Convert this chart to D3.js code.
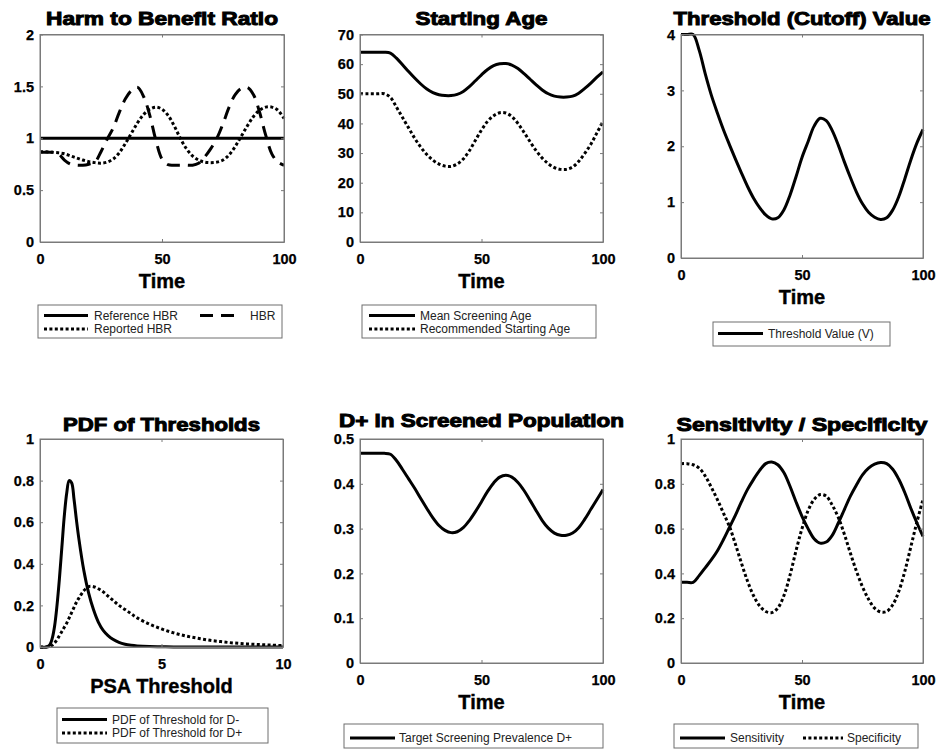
<!DOCTYPE html>
<html>
<head>
<meta charset="utf-8">
<script src="https://cdn.jsdelivr.net/npm/d3@7"></script>
<style>
  body { margin: 0; background: #fff; }
  svg { display: block; }
</style>
</head>
<body>
<svg id="chart" width="947" height="750"></svg>
<script>
// ---- data ----
const time = [0, 2.5, 5, 7.5, 10, 12.5, 15, 17.5, 20, 22.5, 25, 27.5, 30, 32.5, 35, 37.5, 40,
  42.5, 45, 47.5, 50, 52.5, 55, 57.5, 60, 62.5, 65, 67.5, 70, 72.5, 75, 77.5, 80, 82.5, 85,
  87.5, 90, 92.5, 95, 97.5, 100];

const referenceHBR = [1, 1, 1, 1, 1, 1, 1, 1, 1, 1, 1, 1, 1, 1, 1, 1, 1, 1, 1, 1, 1,
  1, 1, 1, 1, 1, 1, 1, 1, 1, 1, 1, 1, 1, 1, 1, 1, 1, 1, 1, 1];
const hbr = [0.865, 0.865, 0.865, 0.85, 0.79, 0.75, 0.74, 0.74, 0.75, 0.77, 0.87, 0.99, 1.10,
  1.25, 1.38, 1.46, 1.49, 1.40, 1.22, 0.98, 0.80, 0.745, 0.74, 0.74, 0.74, 0.74, 0.76, 0.82,
  0.90, 1.00, 1.14, 1.30, 1.42, 1.48, 1.49, 1.42, 1.25, 1.03, 0.85, 0.77, 0.74];
const reportedHBR = [0.87, 0.87, 0.865, 0.86, 0.85, 0.83, 0.81, 0.79, 0.775, 0.765, 0.76, 0.77,
  0.80, 0.86, 0.95, 1.05, 1.15, 1.23, 1.28, 1.30, 1.28, 1.22, 1.12, 1.00, 0.90, 0.83, 0.79,
  0.77, 0.765, 0.77, 0.79, 0.84, 0.92, 1.02, 1.12, 1.21, 1.27, 1.30, 1.30, 1.27, 1.19];

const meanScreeningAge = [64, 64, 64, 64, 64, 63.7, 62, 59.8, 57.5, 55.3, 53.3, 51.6, 50.4,
  49.7, 49.4, 49.4, 49.8, 50.8, 52.4, 54.4, 56.4, 58.2, 59.5, 60.1, 60.2, 59.7, 58.5, 56.8,
  54.9, 53, 51.3, 50, 49.2, 48.9, 48.9, 49.2, 50.2, 51.8, 53.6, 55.6, 57.4];
const recommendedStartAge = [50, 50, 50, 50, 50, 48.8, 45.5, 42, 38.5, 35, 32, 29.5, 27.6,
  26.3, 25.6, 25.5, 26.3, 28, 30.8, 34.3, 37.8, 40.7, 42.6, 43.6, 43.5, 42.3, 40, 37, 33.8,
  30.8, 28.3, 26.4, 25.1, 24.5, 24.5, 25.3, 27.2, 29.9, 33, 36.8, 40.7];

const thresholdValue = [4, 4, 4, 3.72, 3.3, 2.92, 2.6, 2.3, 2.03, 1.77, 1.52, 1.28, 1.07, 0.9,
  0.77, 0.7, 0.72, 0.86, 1.12, 1.45, 1.8, 2.08, 2.36, 2.5, 2.46, 2.28, 2.02, 1.72, 1.44, 1.18,
  0.97, 0.82, 0.73, 0.69, 0.72, 0.86, 1.1, 1.42, 1.76, 2.06, 2.3];

const psaThreshold = [0, 0.25, 0.4, 0.5, 0.6, 0.7, 0.8, 0.9, 1.0, 1.1, 1.2, 1.3, 1.4, 1.5, 1.6,
  1.8, 2.0, 2.2, 2.4, 2.6, 2.8, 3.0, 3.25, 3.5, 3.75, 4, 4.5, 5, 5.5, 6, 6.5, 7, 7.5, 8, 8.5,
  9, 9.5, 10];
const pdfDminus = [0, 0, 0.01, 0.04, 0.1, 0.2, 0.33, 0.48, 0.63, 0.74, 0.8, 0.79, 0.71, 0.61,
  0.52, 0.37, 0.26, 0.18, 0.12, 0.08, 0.055, 0.037, 0.022, 0.013, 0.008, 0.005, 0.002, 0.001,
  0, 0, 0, 0, 0, 0, 0, 0, 0, 0];
const pdfDplus = [0, 0, 0.002, 0.008, 0.02, 0.035, 0.055, 0.075, 0.095, 0.115, 0.14, 0.165,
  0.19, 0.215, 0.235, 0.27, 0.29, 0.29, 0.28, 0.265, 0.245, 0.225, 0.2, 0.18, 0.16, 0.14, 0.11,
  0.087, 0.068, 0.053, 0.042, 0.032, 0.025, 0.019, 0.015, 0.012, 0.009, 0.007];

const targetPrevalence = [0.468, 0.468, 0.468, 0.468, 0.468, 0.466, 0.452, 0.432, 0.411, 0.39,
  0.367, 0.345, 0.324, 0.307, 0.296, 0.291, 0.293, 0.302, 0.318, 0.338, 0.36, 0.383, 0.402,
  0.415, 0.419, 0.415, 0.403, 0.385, 0.363, 0.34, 0.318, 0.301, 0.29, 0.285, 0.285, 0.29,
  0.302, 0.321, 0.343, 0.365, 0.387];

const sensitivity = [0.36, 0.36, 0.36, 0.39, 0.425, 0.46, 0.5, 0.55, 0.605, 0.66, 0.72, 0.775,
  0.82, 0.86, 0.89, 0.897, 0.885, 0.85, 0.79, 0.72, 0.655, 0.6, 0.555, 0.535, 0.54, 0.57, 0.625,
  0.685, 0.745, 0.795, 0.84, 0.87, 0.888, 0.895, 0.89, 0.865, 0.82, 0.76, 0.69, 0.625, 0.565];
const specificity = [0.89, 0.89, 0.885, 0.87, 0.835, 0.785, 0.73, 0.67, 0.61, 0.53, 0.445,
  0.365, 0.3, 0.255, 0.23, 0.225, 0.245, 0.3, 0.39, 0.5, 0.6, 0.68, 0.73, 0.752, 0.745, 0.705,
  0.65, 0.575, 0.49, 0.41, 0.34, 0.285, 0.245, 0.228, 0.23, 0.26, 0.32, 0.41, 0.52, 0.63, 0.73];

// tick values
const timeTicks = [0, 50, 100];
const psaTicks = [0, 5, 10];
const hbrTicks = [0, 0.5, 1, 1.5, 2];
const ageTicks = [0, 10, 20, 30, 40, 50, 60, 70];
const thresholdTicks = [0, 1, 2, 3, 4];
const pdfTicks = [0, 0.2, 0.4, 0.6, 0.8, 1];
const prevalenceTicks = [0, 0.1, 0.2, 0.3, 0.4, 0.5];
const rateTicks = [0, 0.2, 0.4, 0.6, 0.8, 1];

// ---- styles ----
const FONT = "'Liberation Sans', Arial, Helvetica, sans-serif";
const STYLES = {
  solid: { dash: null },
  dashed: { dash: "13,8" },
  dotted: { dash: "3,2.4" }
};

const svg = d3.select("#chart");

function drawPanel(cfg) {
  const g = svg.append("g");
  const x = d3.scaleLinear().domain(cfg.xDomain).range([cfg.left, cfg.right]);
  const y = d3.scaleLinear().domain(cfg.yDomain).range([cfg.bottom, cfg.top]);
  const fmt = d => String(d);

  // lines
  const line = d3.line()
    .x(d => x(d[0]))
    .y(d => y(d[1]))
    .curve(d3.curveCatmullRom.alpha(0.5));
  cfg.series.forEach(s => {
    g.append("path")
      .datum(s.xs.map((v, i) => [v, s.values[i]]))
      .attr("d", line)
      .attr("fill", "none")
      .attr("stroke", "#000")
      .attr("stroke-width", 3)
      .attr("stroke-linejoin", "round")
      .attr("stroke-dasharray", STYLES[s.style].dash);
  });

  // box and inward ticks on all four sides
  const axisColor = "#7a7a7a";
  const tickLen = 3;
  const bottom = g.append("g").attr("transform", `translate(0,${cfg.bottom})`)
    .call(d3.axisBottom(x).tickValues(cfg.xTicks).tickFormat(fmt)
      .tickSizeInner(-tickLen).tickSizeOuter(0).tickPadding(11.5));
  const top = g.append("g").attr("transform", `translate(0,${cfg.top})`)
    .call(d3.axisTop(x).tickValues(cfg.xTicks).tickFormat("")
      .tickSizeInner(-tickLen).tickSizeOuter(0));
  const left = g.append("g").attr("transform", `translate(${cfg.left},0)`)
    .call(d3.axisLeft(y).tickValues(cfg.yTicks).tickFormat(fmt)
      .tickSizeInner(-tickLen).tickSizeOuter(0).tickPadding(6));
  const right = g.append("g").attr("transform", `translate(${cfg.right},0)`)
    .call(d3.axisRight(y).tickValues(cfg.yTicks).tickFormat("")
      .tickSizeInner(-tickLen).tickSizeOuter(0));
  [bottom, top, left, right].forEach(a => {
    a.select(".domain").attr("stroke", axisColor).attr("stroke-width", 1);
    a.selectAll(".tick line").attr("stroke", axisColor);
    a.selectAll("text")
      .attr("font-family", FONT)
      .attr("font-size", 14.5)
      .attr("font-weight", "bold")
      .attr("stroke", "#000").attr("stroke-width", 0.25)
      .attr("fill", "#000");
  });
  g.append("rect")
    .attr("x", cfg.left).attr("y", cfg.top)
    .attr("width", cfg.right - cfg.left).attr("height", cfg.bottom - cfg.top)
    .attr("fill", "none").attr("stroke", axisColor).attr("stroke-width", 1);

  // title
  const cx = (cfg.left + cfg.right) / 2;
  g.append("text")
    .attr("x", cx).attr("y", cfg.titleY)
    .attr("text-anchor", "middle")
    .attr("font-family", FONT).attr("font-weight", "bold").attr("font-size", cfg.titleSize || 19)
    .attr("stroke", "#000").attr("stroke-width", 1)
    .attr("textLength", cfg.titleWidth).attr("lengthAdjust", "spacingAndGlyphs")
    .text(cfg.title);

  // x label
  g.append("text")
    .attr("x", cx).attr("y", cfg.bottom + 46)
    .attr("text-anchor", "middle")
    .attr("font-family", FONT).attr("font-weight", "bold").attr("font-size", 20)
    .attr("stroke", "#000").attr("stroke-width", 0.4)
    .attr("fill", "#000")
    .text(cfg.xLabel);

  // legend
  const L = cfg.legend;
  g.append("rect")
    .attr("x", L.x).attr("y", L.y).attr("width", L.w).attr("height", L.h)
    .attr("fill", "#fff").attr("stroke", "#6e6e6e").attr("stroke-width", 1);
  L.items.forEach(it => {
    g.append("line")
      .attr("x1", it.x).attr("x2", it.x + it.len)
      .attr("y1", it.y).attr("y2", it.y)
      .attr("stroke", "#000").attr("stroke-width", 3)
      .attr("stroke-dasharray", STYLES[it.style].dash);
    g.append("text")
      .attr("x", it.tx).attr("y", it.y + 4.3)
      .attr("font-family", FONT).attr("font-size", 12)
      .attr("fill", "#222")
      .text(it.label);
  });
}

drawPanel({
  left: 40, right: 284, top: 34.5, bottom: 242,
  xDomain: [0, 100], yDomain: [0, 2], xTicks: timeTicks, yTicks: hbrTicks,
  title: "Harm to Benefit Ratio", titleY: 25, titleWidth: 232, xLabel: "Time",
  series: [
    { xs: time, values: referenceHBR, style: "solid" },
    { xs: time, values: hbr, style: "dashed" },
    { xs: time, values: reportedHBR, style: "dotted" }
  ],
  legend: { x: 38, y: 305, w: 244, h: 33, items: [
    { x: 44, len: 44, y: 315.5, tx: 94, style: "solid", label: "Reference HBR" },
    { x: 200, len: 34, y: 315.5, tx: 250, style: "dashed", label: "HBR" },
    { x: 44, len: 44, y: 329, tx: 94, style: "dotted", label: "Reported HBR" }
  ] }
});

drawPanel({
  left: 360, right: 603, top: 34.5, bottom: 242,
  xDomain: [0, 100], yDomain: [0, 70], xTicks: timeTicks, yTicks: ageTicks,
  title: "Starting Age", titleY: 25, titleWidth: 132, xLabel: "Time",
  series: [
    { xs: time, values: meanScreeningAge, style: "solid" },
    { xs: time, values: recommendedStartAge, style: "dotted" }
  ],
  legend: { x: 362, y: 305, w: 234, h: 33, items: [
    { x: 369, len: 46, y: 315.5, tx: 420, style: "solid", label: "Mean Screening Age" },
    { x: 369, len: 46, y: 329, tx: 420, style: "dotted", label: "Recommended Starting Age" }
  ] }
});

drawPanel({
  left: 681, right: 923, top: 34.5, bottom: 258,
  xDomain: [0, 100], yDomain: [0, 4], xTicks: timeTicks, yTicks: thresholdTicks,
  title: "Threshold (Cutoff) Value", titleY: 25, titleWidth: 257, xLabel: "Time",
  series: [
    { xs: time, values: thresholdValue, style: "solid" }
  ],
  legend: { x: 713, y: 322, w: 177, h: 24, items: [
    { x: 718, len: 45, y: 333.5, tx: 768, style: "solid", label: "Threshold Value (V)" }
  ] }
});

drawPanel({
  left: 40, right: 283, top: 439, bottom: 647,
  xDomain: [0, 10], yDomain: [0, 1], xTicks: psaTicks, yTicks: pdfTicks,
  title: "PDF of Thresholds", titleY: 431, titleWidth: 197, xLabel: "PSA Threshold",
  series: [
    { xs: psaThreshold, values: pdfDminus, style: "solid" },
    { xs: psaThreshold, values: pdfDplus, style: "dotted" }
  ],
  legend: { x: 57, y: 708, w: 211, h: 35, items: [
    { x: 62, len: 45, y: 719.5, tx: 112, style: "solid", label: "PDF of Threshold for D-" },
    { x: 62, len: 45, y: 733, tx: 112, style: "dotted", label: "PDF of Threshold for D+" }
  ] }
});

drawPanel({
  left: 360, right: 603, top: 439, bottom: 663,
  xDomain: [0, 100], yDomain: [0, 0.5], xTicks: timeTicks, yTicks: prevalenceTicks,
  title: "D+ in Screened Population", titleY: 426.5, titleSize: 18, titleWidth: 285, xLabel: "Time",
  series: [
    { xs: time, values: targetPrevalence, style: "solid" }
  ],
  legend: { x: 344, y: 724, w: 259, h: 24, items: [
    { x: 350, len: 45, y: 738, tx: 399, style: "solid", label: "Target Screening Prevalence D+" }
  ] }
});

drawPanel({
  left: 681, right: 923, top: 439, bottom: 663,
  xDomain: [0, 100], yDomain: [0, 1], xTicks: timeTicks, yTicks: rateTicks,
  title: "Sensitivity / Specificity", titleY: 431, titleWidth: 251, xLabel: "Time",
  series: [
    { xs: time, values: sensitivity, style: "solid" },
    { xs: time, values: specificity, style: "dotted" }
  ],
  legend: { x: 674, y: 724, w: 244, h: 24, items: [
    { x: 680, len: 45, y: 738, tx: 730, style: "solid", label: "Sensitivity" },
    { x: 803, len: 40, y: 738, tx: 847, style: "dotted", label: "Specificity" }
  ] }
});
</script>
</body>
</html>
